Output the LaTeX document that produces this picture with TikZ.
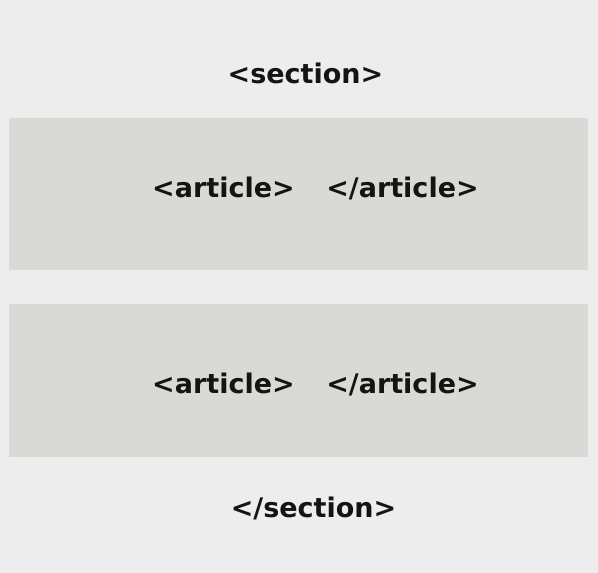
\documentclass[tikz,border=0pt]{standalone}
\usepackage{fontspec}
\setmainfont{DejaVu Sans}
\definecolor{bgcol}{HTML}{EDEDED}
\definecolor{boxcol}{HTML}{D9D9D6}
\definecolor{txtcol}{HTML}{141414}
\begin{document}
\begin{tikzpicture}[x=1pt,y=-1pt,
  tag/.style={anchor=base,inner sep=0pt,text=txtcol,font=\fontsize{27}{30}\selectfont\bfseries},
  panel/.style={fill=boxcol,draw=none}]
\fill[bgcol] (0,0) rectangle (598,573);
\useasboundingbox (0,0) rectangle (598,573);
\path[panel] (9,118) rectangle (588,270);
\path[panel] (9,304) rectangle (588,457);
\node[tag] (secopen) at (305.5,83) {<section>};
\node[tag] (art1open) at (223.5,197) {<article>};
\node[tag] (art1close) at (402.5,197) {</article>};
\node[tag] (art2open) at (223.5,393) {<article>};
\node[tag] (art2close) at (402.5,393) {</article>};
\node[tag] (secclose) at (313.5,517) {</section>};
\end{tikzpicture}
\end{document}
